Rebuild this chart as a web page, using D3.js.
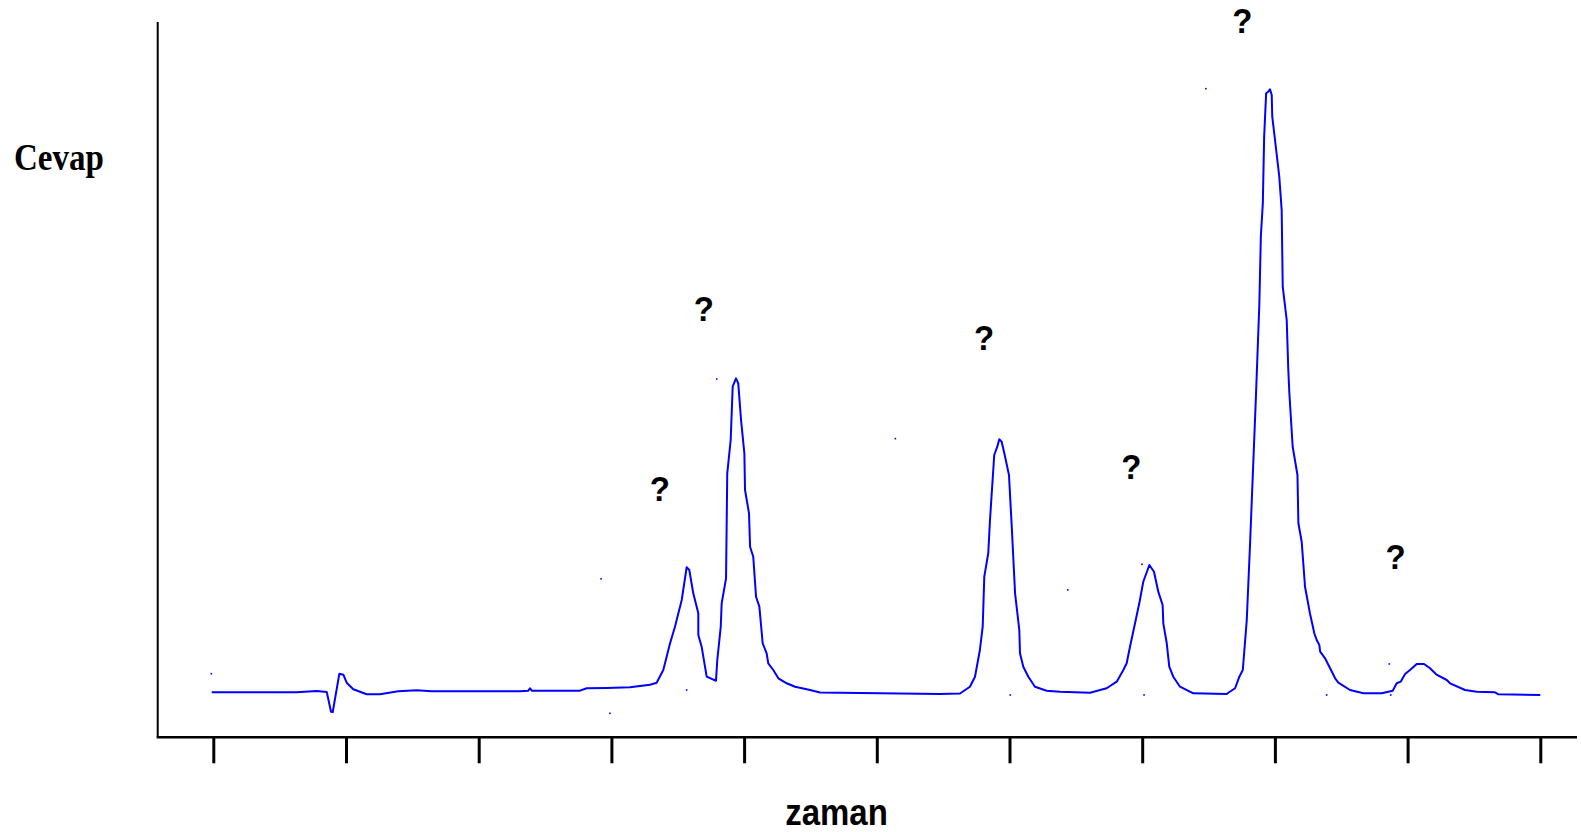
<!DOCTYPE html>
<html>
<head>
<meta charset="utf-8">
<script src="https://cdn.jsdelivr.net/npm/d3@7"></script>
<style>
  html, body { margin: 0; padding: 0; background: #fff; }
  svg { display: block; }
</style>
</head>
<body>
<svg id="chart" width="1581" height="832"></svg>
<script>
// ---- data ----
const xLabel = "zaman";
const yLabel = "Cevap";
const tickValues = [0, 1, 2, 3, 4, 5, 6, 7, 8, 9, 10];

// chromatogram trace: time and response
const traceTime = [
  -0.012, 0.628, 0.779, 0.855, 0.887, 0.900, 0.950, 0.980, 1.005, 1.055,
  1.156, 1.256, 1.394, 1.533, 1.646, 2.311, 2.372, 2.387, 2.402, 2.763,
  2.814, 2.965, 3.140, 3.291, 3.341, 3.391, 3.442, 3.479, 3.530, 3.567,
  3.587, 3.617, 3.655, 3.655, 3.680, 3.718, 3.788, 3.798, 3.824, 3.831,
  3.864, 3.873, 3.899, 3.914, 3.939, 3.956, 3.977, 4.002, 4.007, 4.037,
  4.045, 4.069, 4.090, 4.115, 4.140, 4.170, 4.182, 4.220, 4.258, 4.321,
  4.384, 4.497, 4.572, 5.476, 5.627, 5.702, 5.740, 5.777, 5.798, 5.810,
  5.840, 5.853, 5.885, 5.908, 5.923, 5.941, 5.961, 5.996, 6.017, 6.042,
  6.074, 6.079, 6.104, 6.142, 6.192, 6.280, 6.381, 6.607, 6.732, 6.808,
  6.858, 6.883, 6.908, 6.946, 6.978, 7.008, 7.054, 7.089, 7.121, 7.154,
  7.159, 7.185, 7.204, 7.234, 7.285, 7.385, 7.637, 7.649, 7.700, 7.732,
  7.758, 7.788, 7.813, 7.838, 7.858, 7.883, 7.894, 7.909, 7.919, 7.934,
  7.950, 7.963, 7.976, 7.980, 8.001, 8.033, 8.051, 8.059, 8.089, 8.101,
  8.109, 8.134, 8.170, 8.177, 8.202, 8.227, 8.264, 8.297, 8.315, 8.335,
  8.341, 8.378, 8.416, 8.454, 8.478, 8.566, 8.667, 8.805, 8.888, 8.918,
  8.948, 8.981, 9.018, 9.069, 9.124, 9.169, 9.215, 9.295, 9.320, 9.433,
  9.521, 9.659, 9.684, 10.0
];
const traceResponse = [
  -0.05, -0.05, 0.17, 0.00, -3.28, -3.33, 3.05, 2.88, 1.55, 0.45,
  -0.38, -0.38, 0.12, 0.28, 0.12, 0.12, 0.20, 0.62, 0.20, 0.22,
  0.62, 0.67, 0.78, 1.22, 1.55, 3.67, 8.12, 10.88, 15.33, 20.78,
  20.33, 16.45, 13.12, 9.50, 7.55, 2.55, 1.88, 5.33, 10.88, 14.78,
  18.95, 36.45, 42.00, 50.88, 52.28, 51.45, 45.33, 39.78, 33.67, 29.78,
  24.22, 22.55, 15.88, 14.22, 8.12, 6.45, 4.78, 3.67, 2.28, 1.45,
  0.88, 0.33, -0.08, -0.33, -0.25, 0.88, 2.55, 7.00, 10.88, 19.22,
  23.12, 28.67, 39.50, 40.88, 42.12, 41.72, 39.78, 36.17, 27.55, 16.45,
  10.33, 6.45, 4.22, 2.55, 0.88, 0.22, 0.05, -0.12, 0.62, 1.72,
  3.67, 4.78, 7.55, 11.45, 14.78, 18.38, 21.17, 20.05, 16.72, 14.50,
  11.45, 8.12, 4.22, 2.55, 0.88, -0.22, -0.33, -0.12, 0.62, 2.55,
  3.67, 12.00, 24.78, 38.67, 49.78, 64.78, 75.88, 81.45, 92.55, 99.78,
  100.05, 100.45, 99.50, 95.88, 92.00, 85.88, 80.33, 67.55, 62.00, 53.67,
  49.78, 40.88, 36.17, 28.12, 25.05, 17.55, 13.12, 9.78, 8.67, 7.83,
  6.72, 5.62, 3.95, 2.28, 1.55, 0.33, -0.22, -0.22, 0.22, 1.45,
  1.72, 3.00, 3.67, 4.67, 4.67, 3.95, 2.95, 2.00, 1.45, 0.33,
  0.05, -0.05, -0.38, -0.50
];

// stray detector points
const dotTime = [-0.015, 2.922, 2.989, 3.567, 3.794, 5.140, 6.006, 6.439, 6.998, 7.014, 7.480, 8.390, 8.862, 8.873];
const dotResponse = [3.05, 18.87, -3.55, 0.33, 52.17, 42.23, -0.5, 17.02, 21.28, -0.5, 100.55, -0.5, 4.67, -0.5];

// peak annotations
const peakLabels = ["?", "?", "?", "?", "?", "?"];
const peakLabelTime = [3.696, 3.364, 5.809, 6.918, 7.754, 8.909];
const peakLabelResponse = [61.8, 31.88, 57.08, 35.58, 109.9, 20.45];

// ---- chart ----
const svg = d3.select("#chart");
const x = d3.scaleLinear().domain([0, 10]).range([213.3, 1540.3]);
const y = d3.scaleLinear().domain([0, 100]).range([692, 92]);

const axisY = 737.3, axisX = 157.7;
const yTop = 22, xRight = 1577;

// x axis ticks via d3 axis
const xAxis = d3.axisBottom(x).tickValues(tickValues).tickSize(26).tickSizeOuter(0).tickFormat("");
const gx = svg.append("g").attr("transform", `translate(0,${axisY})`).call(xAxis);
gx.select(".domain").remove();
gx.selectAll(".tick line").attr("stroke", "#000").attr("stroke-width", 3);

// axis lines
svg.append("line").attr("x1", axisX - 1).attr("x2", xRight).attr("y1", axisY).attr("y2", axisY)
  .attr("stroke", "#000").attr("stroke-width", 2.5);
svg.append("line").attr("x1", axisX).attr("x2", axisX).attr("y1", yTop).attr("y2", axisY)
  .attr("stroke", "#000").attr("stroke-width", 2);

// trace
const pts = traceTime.map((t, i) => [t, traceResponse[i]]);
const line = d3.line().x(d => x(d[0])).y(d => y(d[1]));
svg.append("path").datum(pts).attr("d", line)
  .attr("fill", "none").attr("stroke", "#0000ff").attr("stroke-width", 2)
  .attr("stroke-linejoin", "round");

// stray dots
svg.selectAll("rect.dot").data(dotTime.map((t, i) => [t, dotResponse[i]]))
  .enter().append("rect").attr("class", "dot")
  .attr("x", d => x(d[0]) - 0.8).attr("y", d => y(d[1]) - 0.8)
  .attr("width", 1.6).attr("height", 1.6).attr("fill", "#0000ff");

// peak labels
svg.selectAll("text.peak").data(peakLabels.map((s, i) => [s, peakLabelTime[i], peakLabelResponse[i]]))
  .enter().append("text").attr("class", "peak")
  .attr("transform", d => `translate(${x(d[1])},${y(d[2])}) scale(1,1.08)`)
  .attr("text-anchor", "middle")
  .attr("font-family", "'Liberation Sans', Arial, sans-serif")
  .attr("font-weight", "bold").attr("font-size", 33)
  .attr("fill", "#000").text(d => d[0]);

// axis titles
svg.append("text").attr("transform", "translate(836.5,825) scale(1,1.12)")
  .attr("text-anchor", "middle")
  .attr("font-family", "'Liberation Sans', Arial, sans-serif")
  .attr("font-weight", "bold").attr("font-size", 33).text(xLabel);

svg.append("text").attr("transform", "translate(14,170) scale(1,1.15)")
  .attr("text-anchor", "start")
  .attr("font-family", "'Liberation Serif', 'Times New Roman', serif")
  .attr("font-weight", "bold").attr("font-size", 33).text(yLabel);
</script>
</body>
</html>
